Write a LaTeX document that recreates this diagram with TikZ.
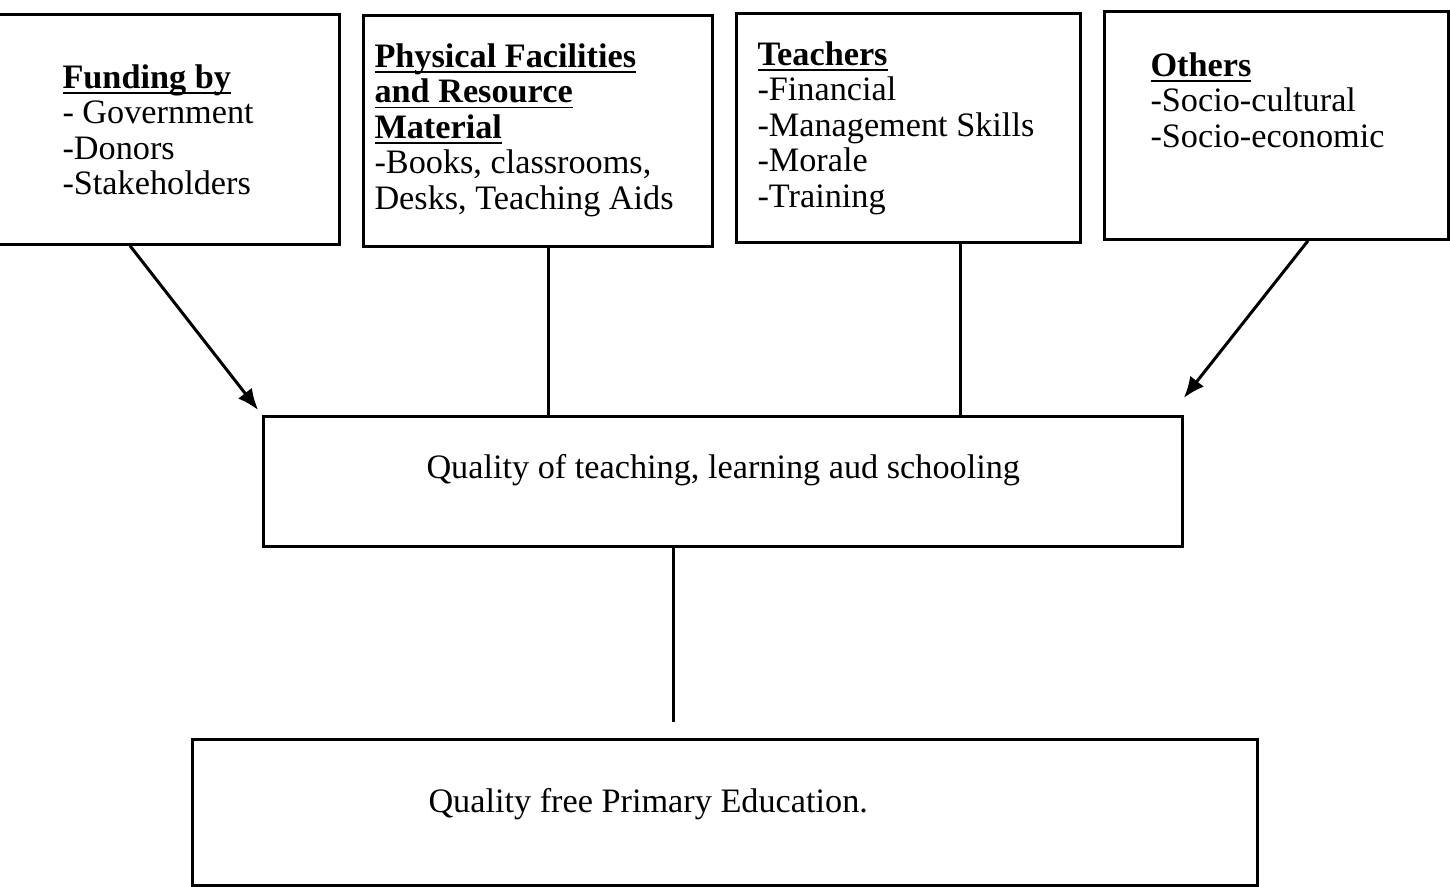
\documentclass[tikz,border=0pt]{standalone}
\usepackage{fontspec}
\setmainfont{Liberation Serif}
\usetikzlibrary{arrows.meta}
% bold heading with a rule set close under the baseline
\newcommand{\headln}[1]{\setbox0\hbox{\textbf{#1}}\rlap{\rule[-2.2pt]{\wd0}{0.7pt}}\box0}
\begin{document}
\begin{tikzpicture}[x=0.4pt,y=-0.4pt,
  box/.style={draw, line width=1.1pt, rectangle, inner sep=0pt, anchor=north west},
  txt/.style={inner sep=0pt, anchor=north west, align=left,
    font=\fontsize{13.7}{14.2}\selectfont},
  one/.style={inner sep=0pt, anchor=base west, font=\fontsize{13.7}{14.2}\selectfont},
  link/.style={line width=1.2pt},
  arrow/.style={line width=1.2pt, -{Latex[length=8.5pt,width=7pt]}}]
\useasboundingbox (0,0) rectangle (1450,886);

% top row of factor boxes
\node[box, minimum width=137.2pt, minimum height=92pt]   (fund)   at (-5,13)   {};
\node[box, minimum width=139.6pt, minimum height=92.4pt] (phys)   at (362,14)  {};
\node[box, minimum width=137.6pt, minimum height=91.6pt] (teach)  at (735,12)  {};
\node[box, minimum width=137.6pt, minimum height=91.2pt] (others) at (1103,10) {};

% outcome boxes
\node[box, minimum width=367.6pt, minimum height=52pt]   (quality) at (262,415) {};
\node[box, minimum width=426pt,   minimum height=58.4pt] (fpe)     at (191,738) {};

% box texts
\node[txt] (tfund) at (62,64)
  {\headln{Funding by}\\- Government\\-Donors\\-Stakeholders};
\node[txt] (tphys) at (374,43)
  {\headln{Physical Facilities}\\\headln{and Resource}\\\headln{Material}\\-Books, classrooms,\\Desks, Teaching Aids};
\node[txt] (tteach) at (757,41)
  {\headln{Teachers}\\-Financial\\-Management Skills\\-Morale\\-Training};
\node[txt] (tothers) at (1150,52)
  {\headln{Others}\\-Socio-cultural\\-Socio-economic};
\node[one] (tquality) at (426,478) {Quality of teaching, learning aud schooling};
\node[one] (tfpe) at (428,812) {Quality free Primary Education.};

% connectors
\draw[arrow, shorten >=2.5pt] (130,0 |- fund.south) -- (quality.north west);
\draw[link] (548,0 |- phys.south) -- (548,0 |- quality.north);
\draw[link] (960,0 |- teach.south) -- (960,0 |- quality.north);
\draw[arrow] (1308,0 |- others.south) -- ([yshift=6.8pt]quality.north east);
\draw[link] (673,0 |- quality.south) -- ([yshift=6.4pt]673,0 |- fpe.north);
\end{tikzpicture}
\end{document}
